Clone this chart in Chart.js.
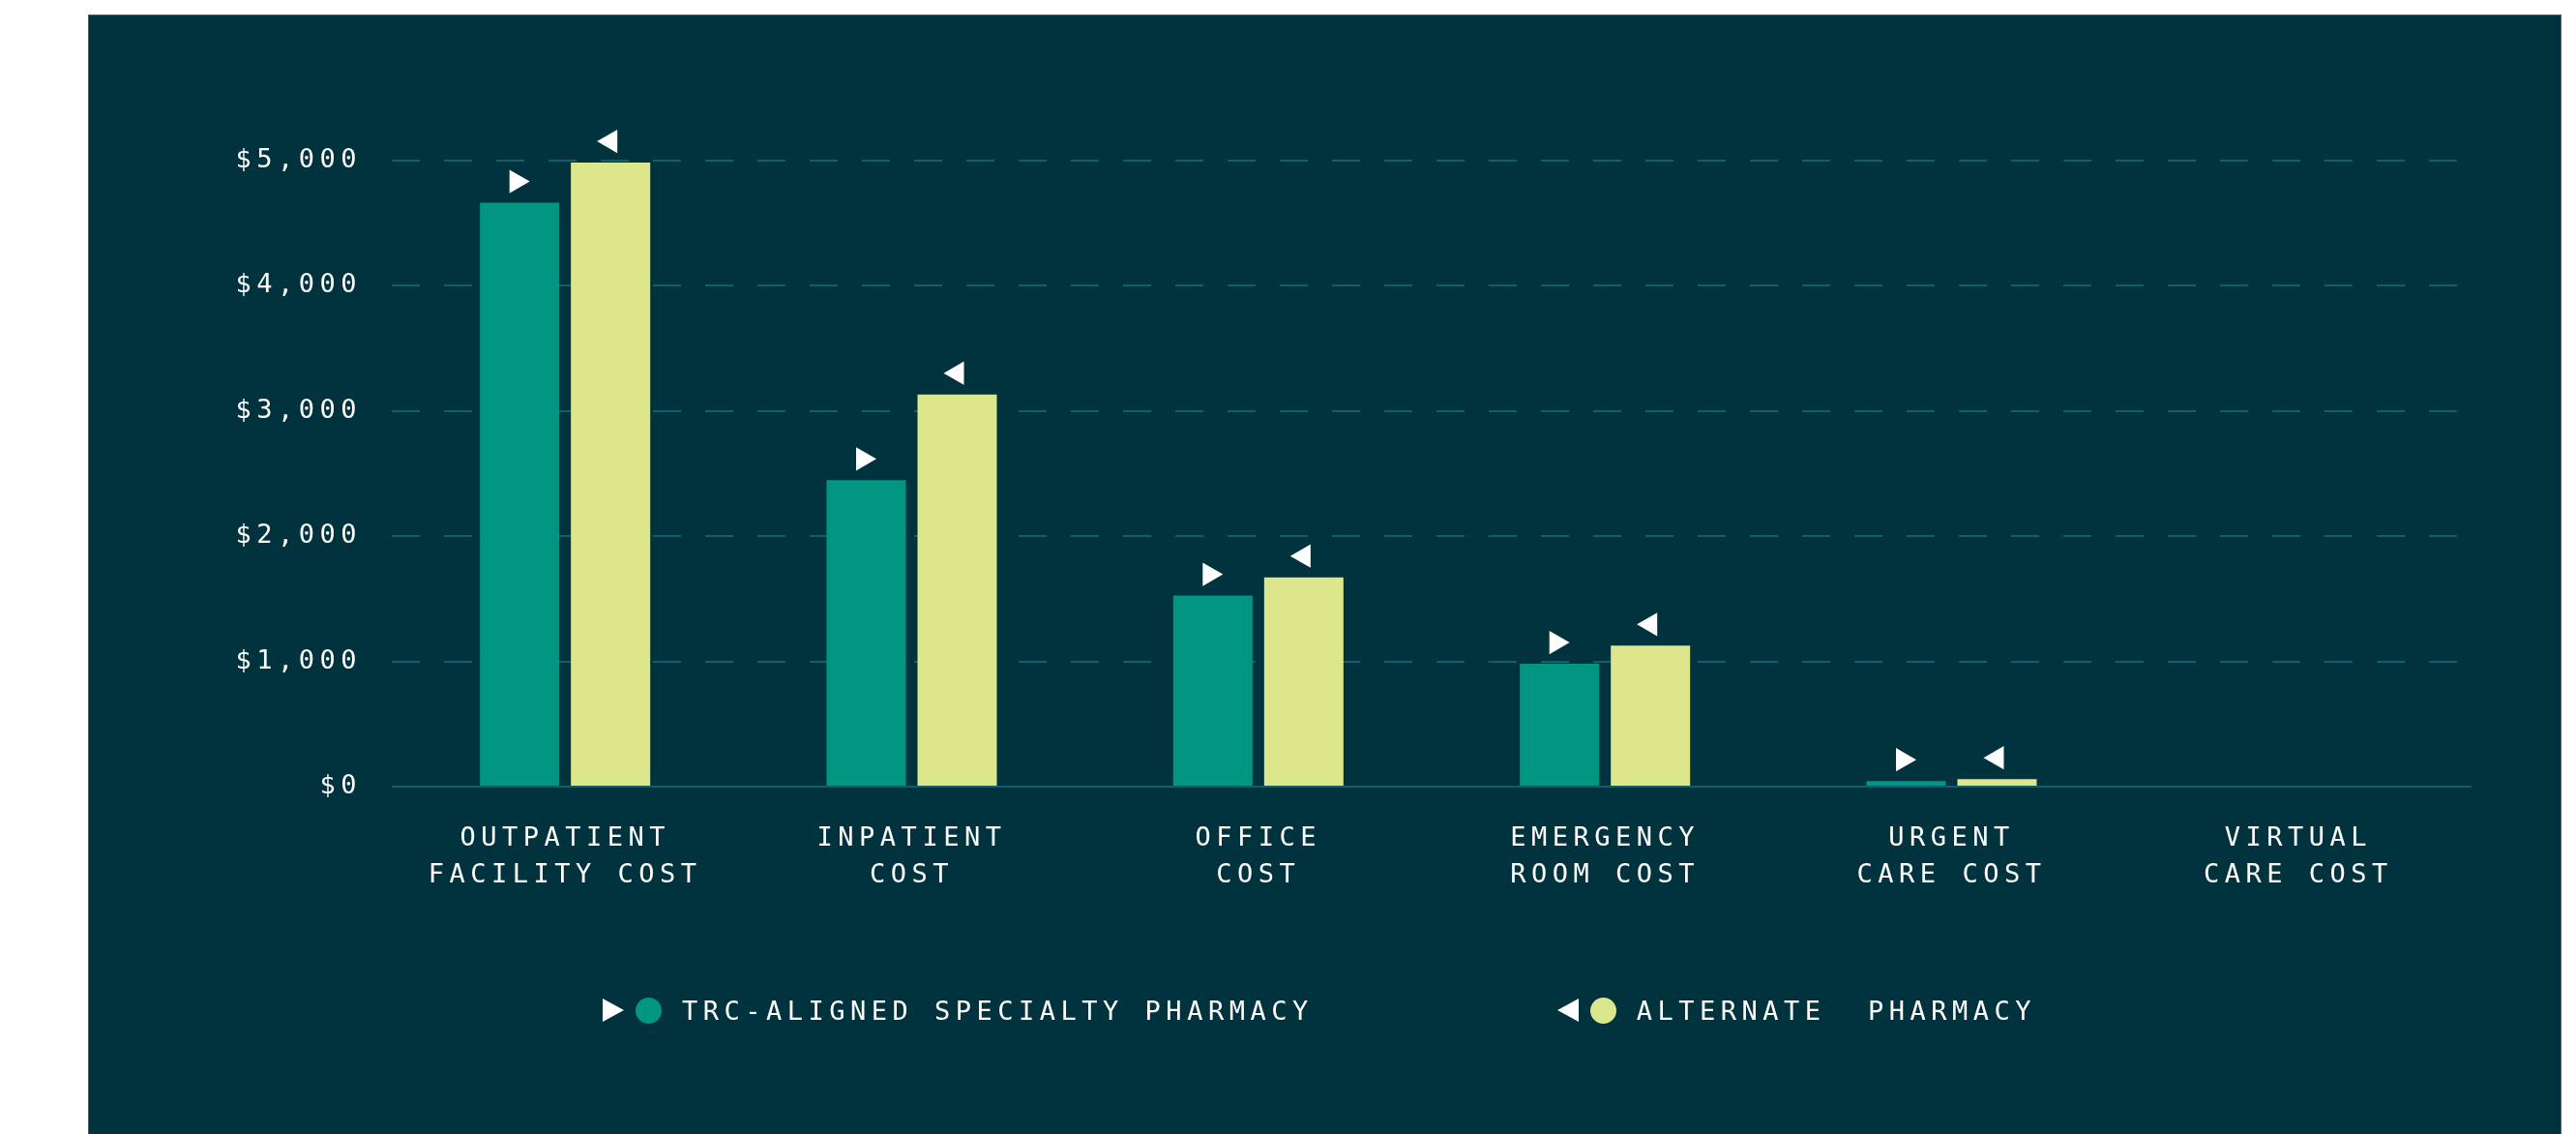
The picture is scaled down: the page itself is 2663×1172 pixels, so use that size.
<!DOCTYPE html>
<html>
<head>
<meta charset="utf-8">
<script src="https://cdn.jsdelivr.net/npm/chart.js@4"></script>
<style>
  html, body { margin: 0; padding: 0; background: #ffffff; }
  body { width: 2663px; height: 1172px; overflow: hidden; position: relative; }
  .panel {
    position: absolute; left: 91px; top: 15px; width: 2557px; height: 1157px;
    box-sizing: border-box; background: #00333d;
    border-top: 1px solid #2e6c73; border-left: 1px solid #2e6c73; border-right: 1px solid #2e6c73;
  }
  .chart-wrap { position: absolute; left: 0; top: 0; width: 2555px; height: 1156px; }
  .legend {
    position: absolute; left: 531px; top: 1008px; height: 40px;
    display: flex; align-items: center; gap: 252px;
    font-family: 'DejaVu Sans Mono', monospace; font-size: 27px; letter-spacing: 5.5px;
    color: #ffffff; white-space: pre;
  }
  .legend-item { display: flex; align-items: center; }
  .tri-right { width: 0; height: 0; border-top: 12px solid transparent; border-bottom: 12px solid transparent; border-left: 22px solid #ffffff; margin-right: 12px; }
  .tri-left { width: 0; height: 0; border-top: 12px solid transparent; border-bottom: 12px solid transparent; border-right: 22px solid #ffffff; margin-right: 12px; }
  .dot { width: 27px; height: 27px; border-radius: 50%; margin-right: 21px; }
</style>
</head>
<body>
<div class="panel">
  <div class="chart-wrap"><canvas id="costChart"></canvas></div>
  <div class="legend" id="legend"></div>
</div>
<script>
// Categories and values
const categories = [
    ['OUTPATIENT', 'FACILITY COST'],
    ['INPATIENT', 'COST'],
    ['OFFICE', 'COST'],
    ['EMERGENCY', 'ROOM COST'],
    ['URGENT', 'CARE COST'],
    ['VIRTUAL', 'CARE COST']
];
const trcValues = [4660, 2445, 1525, 980, 45, null];
const alternateValues = [4980, 3130, 1670, 1125, 60, null];
const seriesNames = ['TRC-ALIGNED SPECIALTY PHARMACY', 'ALTERNATE  PHARMACY'];
const yTicks = [0, 1000, 2000, 3000, 4000, 5000];

const TEAL = '#009682';
const YELLOW = '#dce68a';
const GRID = '#0d616c';
const FONT = "'DejaVu Sans Mono', monospace";

const formatDollars = (val) => '$' + new Intl.NumberFormat('en-US').format(val);

// canvas text needs the same wide tracking as the html legend
const letterSpacingPlugin = {
    id: 'letterSpacing',
    beforeLayout(chart) { chart.ctx.letterSpacing = '5.5px'; },
    beforeDraw(chart) { chart.ctx.letterSpacing = '5.5px'; }
};

// white triangles sitting above each bar
const barMarkers = {
    id: 'barMarkers',
    afterDatasetsDraw(chart) {
        const ctx = chart.ctx;
        chart.data.datasets.forEach((ds, i) => {
            const meta = chart.getDatasetMeta(i);
            meta.data.forEach((bar, j) => {
                if (ds.data[j] == null) return;
                const x = bar.x + ds.markerShift;
                const y = bar.y - 22;
                ctx.save();
                ctx.fillStyle = '#ffffff';
                if (Chart.helpers && Chart.helpers.drawPoint) {
                    Chart.helpers.drawPoint(ctx, { pointStyle: 'triangle', rotation: ds.markerRotation, radius: 14, borderWidth: 0 }, x, y);
                } else {
                    const rad = ds.markerRotation * Math.PI / 180;
                    ctx.beginPath();
                    for (let k = 0; k < 3; k++) {
                        const a = rad + k * 2 * Math.PI / 3;
                        ctx.lineTo(x + Math.sin(a) * 14, y - Math.cos(a) * 14);
                    }
                    ctx.closePath();
                    ctx.fill();
                }
                ctx.restore();
            });
        });
    }
};

function renderLegend() {
    const el = document.getElementById('legend');
    const items = [
        { tri: 'tri-right', color: TEAL, text: seriesNames[0] },
        { tri: 'tri-left', color: YELLOW, text: seriesNames[1] }
    ];
    el.innerHTML = items.map(it =>
        `<div class="legend-item"><span class="${it.tri}"></span><span class="dot" style="background:${it.color}"></span><span>${it.text}</span></div>`
    ).join('');
}

function renderChart() {
    const ctx = document.getElementById('costChart').getContext('2d');

    new Chart(ctx, {
        type: 'bar',
        data: {
            labels: categories,
            datasets: [{
                label: seriesNames[0],
                data: trcValues,
                backgroundColor: TEAL,
                borderWidth: 0,
                categoryPercentage: 0.5247,
                barPercentage: 0.8723,
                markerRotation: 90,
                markerShift: -3.5
            }, {
                label: seriesNames[1],
                data: alternateValues,
                backgroundColor: YELLOW,
                borderWidth: 0,
                categoryPercentage: 0.5247,
                barPercentage: 0.8723,
                markerRotation: -90,
                markerShift: 0
            }]
        },
        options: {
            responsive: true,
            maintainAspectRatio: false,
            animation: false,
            layout: { padding: { top: 149.5, right: 92, bottom: 221, left: 0 } },
            plugins: {
                legend: { display: false },
                tooltip: { enabled: false }
            },
            scales: {
                x: {
                    grid: { display: false },
                    border: { display: false },
                    ticks: {
                        color: '#ffffff',
                        padding: 27,
                        maxRotation: 0,
                        autoSkip: false,
                        font: { family: FONT, size: 27, lineHeight: 38 / 27 }
                    }
                },
                y: {
                    min: 0,
                    max: 5000,
                    afterFit(scale) { scale.width = 313; },
                    afterBuildTicks(scale) { scale.ticks = yTicks.map(v => ({ value: v })); },
                    grid: {
                        color: GRID,
                        lineWidth: 2,
                        drawTicks: false
                    },
                    border: {
                        display: false,
                        dash: (c) => (c.tick && c.tick.value === 0 ? [] : [29, 25])
                    },
                    ticks: {
                        color: '#ffffff',
                        padding: 31,
                        callback: (val) => formatDollars(val),
                        font: { family: FONT, size: 27 }
                    }
                }
            }
        },
        plugins: [letterSpacingPlugin, barMarkers]
    });
}

document.addEventListener('DOMContentLoaded', () => {
    renderLegend();
    renderChart();
});
</script>
</body>
</html>
